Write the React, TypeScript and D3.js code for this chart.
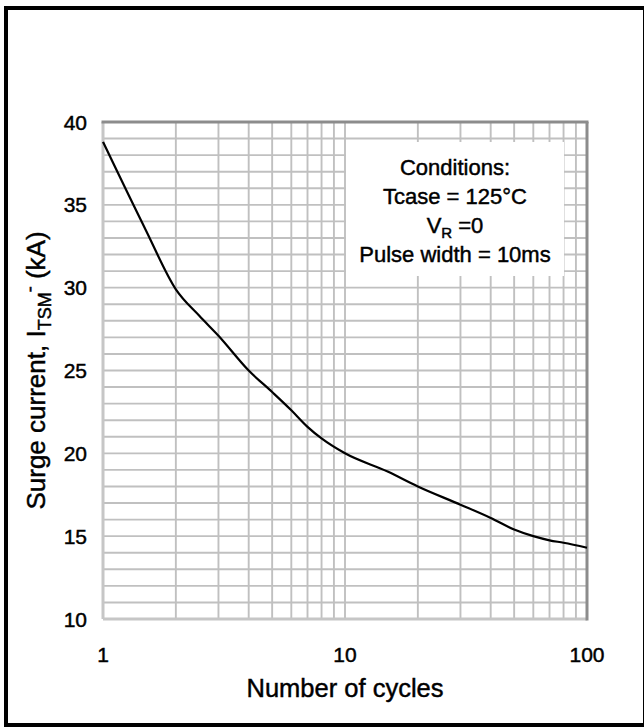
import { useEffect, useRef } from "react";
import * as d3 from "d3";

const cycles = [1, 1.5, 2, 2.5, 3, 4, 5, 6, 7, 8, 10, 15, 20, 30, 40, 50, 60, 70, 80, 100];
const surgeKA = [38.8, 33.5, 29.9, 28.3, 27.1, 25.0, 23.7, 22.6, 21.6, 20.9, 20.0, 18.9, 18.0, 16.9, 16.1, 15.4, 15.0, 14.75, 14.6, 14.3];

const yTicks = [10, 15, 20, 25, 30, 35, 40];
const xTicks = [1, 10, 100];
const conditions = ["Conditions:", "Tcase = 125°C", "VR", "Pulse width = 10ms"];

const FONT = "'Liberation Sans', Arial, sans-serif";

export default function App() {
  const svgRef = useRef<SVGSVGElement | null>(null);
  const width = 644;
  const height = 727;

  useEffect(() => {
    document.body.style.margin = "0";
    const svg = d3.select(svgRef.current);
    svg.selectAll("*").remove();

    const margin = { top: 122, right: 57, bottom: 108, left: 103 };
    const innerWidth = width - margin.left - margin.right;
    const innerHeight = height - margin.top - margin.bottom;

    const x = d3.scaleLog().domain([1, 100]).range([0, innerWidth]);
    const y = d3.scaleLinear().domain([10, 40]).range([innerHeight, 0]);

    svg.append("rect")
      .attr("width", width)
      .attr("height", height)
      .attr("fill", "#fff");

    // outer frame
    svg.append("rect")
      .attr("x", 6)
      .attr("y", 8)
      .attr("width", 639)
      .attr("height", 717)
      .attr("fill", "none")
      .attr("stroke", "#000")
      .attr("stroke-width", 4);

    const g = svg.append("g")
      .attr("transform", `translate(${margin.left},${margin.top})`);

    // grid
    const xGrid = [2, 3, 4, 5, 6, 7, 8, 9, 10, 20, 30, 40, 50, 60, 70, 80, 90];
    g.selectAll("line.vgrid")
      .data(xGrid)
      .enter()
      .append("line")
      .attr("x1", d => x(d))
      .attr("x2", d => x(d))
      .attr("y1", 0)
      .attr("y2", innerHeight)
      .attr("stroke", "#c0c0c0")
      .attr("stroke-width", 1.9);

    g.selectAll("line.hgrid")
      .data(d3.range(11, 40))
      .enter()
      .append("line")
      .attr("x1", 0)
      .attr("x2", innerWidth)
      .attr("y1", d => y(d))
      .attr("y2", d => y(d))
      .attr("stroke", "#c0c0c0")
      .attr("stroke-width", 1.9);

    // plot area border (light left/bottom, darker top/right)
    g.append("line").attr("x1", 0).attr("x2", 0).attr("y1", 0).attr("y2", innerHeight)
      .attr("stroke", "#c6c6c6").attr("stroke-width", 3);
    g.append("line").attr("x1", 0).attr("x2", innerWidth).attr("y1", innerHeight).attr("y2", innerHeight)
      .attr("stroke", "#c6c6c6").attr("stroke-width", 3);
    g.append("line").attr("x1", -1.5).attr("x2", innerWidth + 1.5).attr("y1", 0).attr("y2", 0)
      .attr("stroke", "#8c8c8c").attr("stroke-width", 3);
    g.append("line").attr("x1", innerWidth).attr("x2", innerWidth).attr("y1", 0).attr("y2", innerHeight + 1.5)
      .attr("stroke", "#8c8c8c").attr("stroke-width", 3);

    // conditions box
    const boxX = 346 - margin.left;
    const boxY = 142 - margin.top;
    g.append("rect")
      .attr("x", boxX)
      .attr("y", boxY)
      .attr("width", 218)
      .attr("height", 134)
      .attr("fill", "#fff");

    const textStyle = (t: d3.Selection<SVGTextElement, unknown, null, undefined>) =>
      t.attr("font-family", FONT)
        .attr("fill", "#000")
        .attr("stroke", "#000")
        .attr("stroke-width", 0.45);

    const cx = boxX + 109;
    conditions.forEach((line, i) => {
      const t = g.append("text")
        .attr("x", cx)
        .attr("y", boxY + 33 + i * 29)
        .attr("text-anchor", "middle")
        .attr("font-size", 22)
        .call(textStyle);
      if (line === "VR") {
        t.append("tspan").text("V");
        t.append("tspan").attr("font-size", 15).attr("dy", 5).text("R");
        t.append("tspan").attr("dy", -5).text(" =0");
      } else {
        t.text(line);
      }
    });

    // curve
    const line = d3.line<number>()
      .x((_, i) => x(cycles[i]))
      .y(d => y(d))
      .curve(d3.curveMonotoneX);

    g.append("path")
      .datum(surgeKA)
      .attr("d", line)
      .attr("fill", "none")
      .attr("stroke", "#000")
      .attr("stroke-width", 2.2);

    // y tick labels
    g.selectAll("text.ytick")
      .data(yTicks)
      .enter()
      .append("text")
      .attr("x", -16)
      .attr("y", d => y(d))
      .attr("dy", "0.36em")
      .attr("text-anchor", "end")
      .attr("font-size", 21)
      .call(textStyle as any)
      .text(d => d);

    // x tick labels
    g.selectAll("text.xtick")
      .data(xTicks)
      .enter()
      .append("text")
      .attr("x", d => x(d))
      .attr("y", innerHeight + 43)
      .attr("text-anchor", "middle")
      .attr("font-size", 21)
      .call(textStyle as any)
      .text(d => d);

    // axis titles
    g.append("text")
      .attr("x", innerWidth / 2)
      .attr("y", innerHeight + 78)
      .attr("text-anchor", "middle")
      .attr("font-size", 25.5)
      .call(textStyle)
      .text("Number of cycles");

    const yt = g.append("text")
      .attr("transform", `translate(${-58},${innerHeight / 2}) rotate(-90)`)
      .attr("text-anchor", "middle")
      .attr("font-size", 26)
      .call(textStyle);
    yt.append("tspan").text("Surge current, I");
    yt.append("tspan").attr("font-size", 18).attr("dy", 6).text("TSM");
    yt.append("tspan").attr("font-size", 18).attr("dy", -15).text("-");
    yt.append("tspan").attr("dy", 9).text(" (kA)");
  }, []);

  return <svg ref={svgRef} width={width} height={height} style={{ display: "block" }} />;
}
